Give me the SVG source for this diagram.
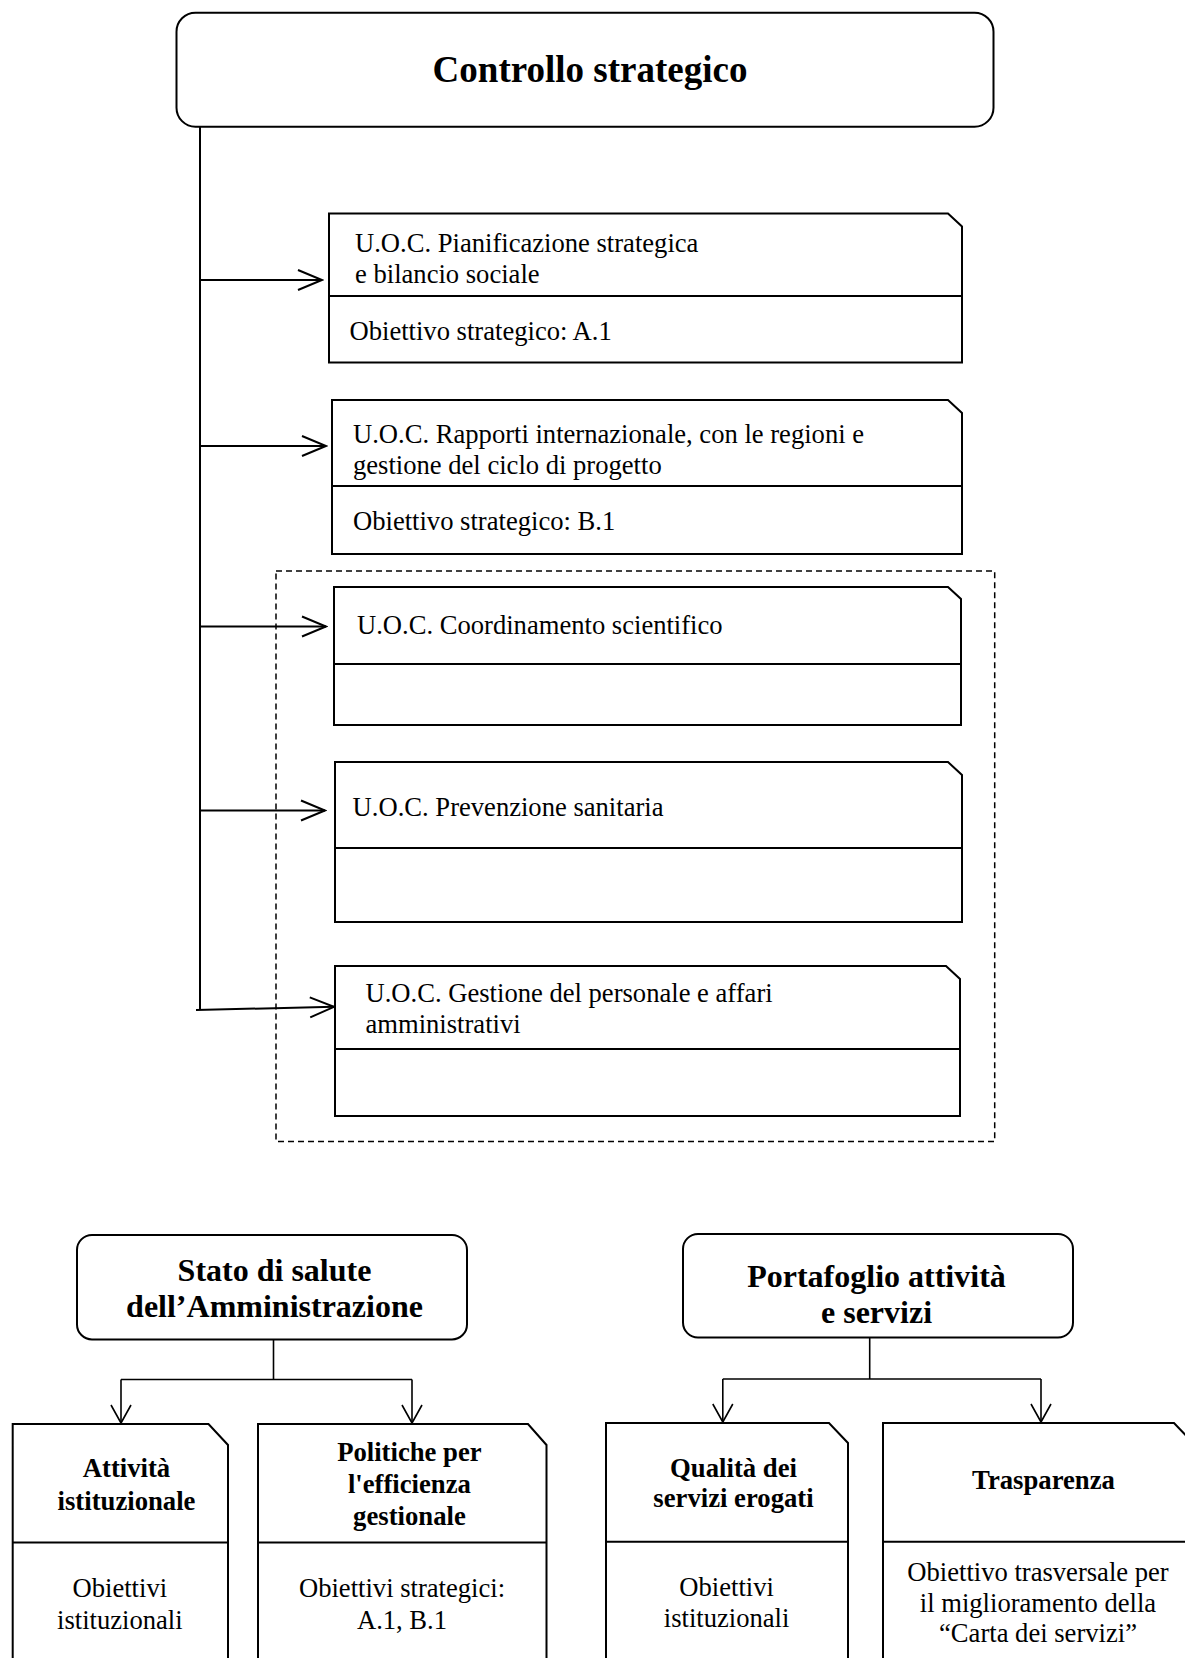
<svg xmlns="http://www.w3.org/2000/svg" width="1185" height="1658" viewBox="0 0 1185 1658">
<style>
.box{fill:#fff;stroke:#000;stroke-width:2}
.rbox{fill:#fff;stroke:#000;stroke-width:2}
.div{stroke:#000;stroke-width:2;fill:none}
.conn{stroke:#000;stroke-width:2;fill:none}
.conn2{stroke:#000;stroke-width:1.6;fill:none}
.dash{fill:none;stroke:#000;stroke-width:1.5;stroke-dasharray:6,4}
text{font-family:"Liberation Serif","Times New Roman",serif;fill:#000}
.t{font-size:26.6px}
.b{font-size:26.7px;font-weight:bold}
.bb{font-size:32px;font-weight:bold}
.title{font-size:37px;font-weight:bold}
.c{text-anchor:middle}
</style>
<defs>
<marker id="arr" markerUnits="userSpaceOnUse" viewBox="-2 -2 28 24" refX="24" refY="10" markerWidth="28" markerHeight="24" orient="auto">
<path d="M0,0 L24,10 L0,20" fill="none" stroke="#000" stroke-width="2"/>
</marker>
<marker id="arrS" markerUnits="userSpaceOnUse" viewBox="-2 -2 22 24" refX="18" refY="10" markerWidth="22" markerHeight="24" orient="auto">
<path d="M0,0 L18,10 L0,20" fill="none" stroke="#000" stroke-width="1.6"/>
</marker>
</defs>
<rect width="1185" height="1658" fill="#fff"/>

<g id="connectors">
<path class="conn" d="M200,127 V1010"/>
<path class="conn" d="M200,280 H322" marker-end="url(#arr)"/>
<path class="conn" d="M200,446 H326" marker-end="url(#arr)"/>
<path class="conn" d="M200,626.5 H326" marker-end="url(#arr)"/>
<path class="conn" d="M200,810.5 H325" marker-end="url(#arr)"/>
<path class="conn" d="M196,1010 L334,1006.8" marker-end="url(#arr)"/>
<path class="conn2" d="M273.5,1339 V1379.5"/>
<path class="conn2" d="M121,1379.5 H412"/>
<path class="conn2" d="M121,1379.5 V1423" marker-end="url(#arrS)"/>
<path class="conn2" d="M412,1379.5 V1423" marker-end="url(#arrS)"/>
<path class="conn2" d="M869.7,1337 V1379"/>
<path class="conn2" d="M722.8,1379 H1041"/>
<path class="conn2" d="M722.8,1379 V1422" marker-end="url(#arrS)"/>
<path class="conn2" d="M1041,1379 V1422" marker-end="url(#arrS)"/>
</g>

<g id="controllo-strategico">
<rect class="rbox" x="176.5" y="12.7" width="817" height="114" rx="19"/>
<text class="title c" x="590" y="82">Controllo strategico</text>
</g>

<g id="uoc-pianificazione">
<path class="box" d="M329,213.5 H948 L962,226.5 V362.5 H329 Z"/>
<line class="div" x1="329" y1="296" x2="962" y2="296"/>
<text class="t" x="355" y="251.6">U.O.C. Pianificazione strategica</text>
<text class="t" x="355" y="282.5">e bilancio sociale</text>
<text class="t" x="349.5" y="339.5">Obiettivo strategico: A.1</text>
</g>

<g id="uoc-rapporti">
<path class="box" d="M332,400 H948 L962,413 V554 H332 Z"/>
<line class="div" x1="332" y1="486" x2="962" y2="486"/>
<text class="t" x="353" y="442.7">U.O.C. Rapporti internazionale, con le regioni e</text>
<text class="t" x="353" y="474.3">gestione del ciclo di progetto</text>
<text class="t" x="353" y="530">Obiettivo strategico: B.1</text>
</g>

<rect id="group-frame" class="dash" x="276" y="571" width="718.7" height="570.6"/>

<g id="uoc-coordinamento">
<path class="box" d="M334,587 H948 L961,599 V725 H334 Z"/>
<line class="div" x1="334" y1="664" x2="961" y2="664"/>
<text class="t" x="357" y="633.7">U.O.C. Coordinamento scientifico</text>
</g>

<g id="uoc-prevenzione">
<path class="box" d="M335,762 H948 L962,775 V922 H335 Z"/>
<line class="div" x1="335" y1="848" x2="962" y2="848"/>
<text class="t" x="352.6" y="815.7">U.O.C. Prevenzione sanitaria</text>
</g>

<g id="uoc-gestione">
<path class="box" d="M335,966 H946 L960,979 V1116 H335 Z"/>
<line class="div" x1="335" y1="1049" x2="960" y2="1049"/>
<text class="t" x="365.5" y="1002">U.O.C. Gestione del personale e affari</text>
<text class="t" x="365.5" y="1033">amministrativi</text>
</g>

<g id="stato-salute">
<rect class="rbox" x="77" y="1235" width="390" height="104.4" rx="15"/>
<text class="bb c" x="274.5" y="1280.7">Stato di salute</text>
<text class="bb c" x="274.5" y="1316.7">dell’Amministrazione</text>
</g>

<g id="portafoglio">
<rect class="rbox" x="683" y="1234" width="390" height="103.5" rx="15"/>
<text class="bb c" x="876.5" y="1287">Portafoglio attività</text>
<text class="bb c" x="876.5" y="1323">e servizi</text>
</g>

<g id="attivita-istituzionale">
<path class="box" d="M12.7,1424 H208.5 L228,1445 V1670 H12.7 Z"/>
<line class="div" x1="12.7" y1="1542.5" x2="228" y2="1542.5"/>
<text class="b c" x="126.5" y="1477">Attività</text>
<text class="b c" x="126.5" y="1509.5">istituzionale</text>
<text class="t c" x="119.8" y="1597">Obiettivi</text>
<text class="t c" x="119.8" y="1628.5">istituzionali</text>
</g>

<g id="politiche-efficienza">
<path class="box" d="M258,1424 H528 L546.5,1445 V1670 H258 Z"/>
<line class="div" x1="258" y1="1542.5" x2="546.5" y2="1542.5"/>
<text class="b c" x="409.4" y="1460.7">Politiche per</text>
<text class="b c" x="409.4" y="1493">l'efficienza</text>
<text class="b c" x="409.4" y="1525">gestionale</text>
<text class="t c" x="402" y="1597">Obiettivi strategici:</text>
<text class="t c" x="402" y="1628.5">A.1, B.1</text>
</g>

<g id="qualita-servizi">
<path class="box" d="M606,1423 H829 L848,1443 V1670 H606 Z"/>
<line class="div" x1="606" y1="1541.7" x2="848" y2="1541.7"/>
<text class="b c" x="733.5" y="1476.7">Qualità dei</text>
<text class="b c" x="733.5" y="1506.7">servizi erogati</text>
<text class="t c" x="726.6" y="1595.5">Obiettivi</text>
<text class="t c" x="726.6" y="1627">istituzionali</text>
</g>

<g id="trasparenza">
<path class="box" d="M883,1423 H1174 L1194,1444 V1670 H883 Z"/>
<line class="div" x1="883" y1="1541.7" x2="1194" y2="1541.7"/>
<text class="b c" x="1043.5" y="1489">Trasparenza</text>
<text class="t c" x="1038" y="1580.5">Obiettivo trasversale per</text>
<text class="t c" x="1038" y="1611.5">il miglioramento della</text>
<text class="t c" x="1038" y="1642">“Carta dei servizi”</text>
</g>
</svg>
